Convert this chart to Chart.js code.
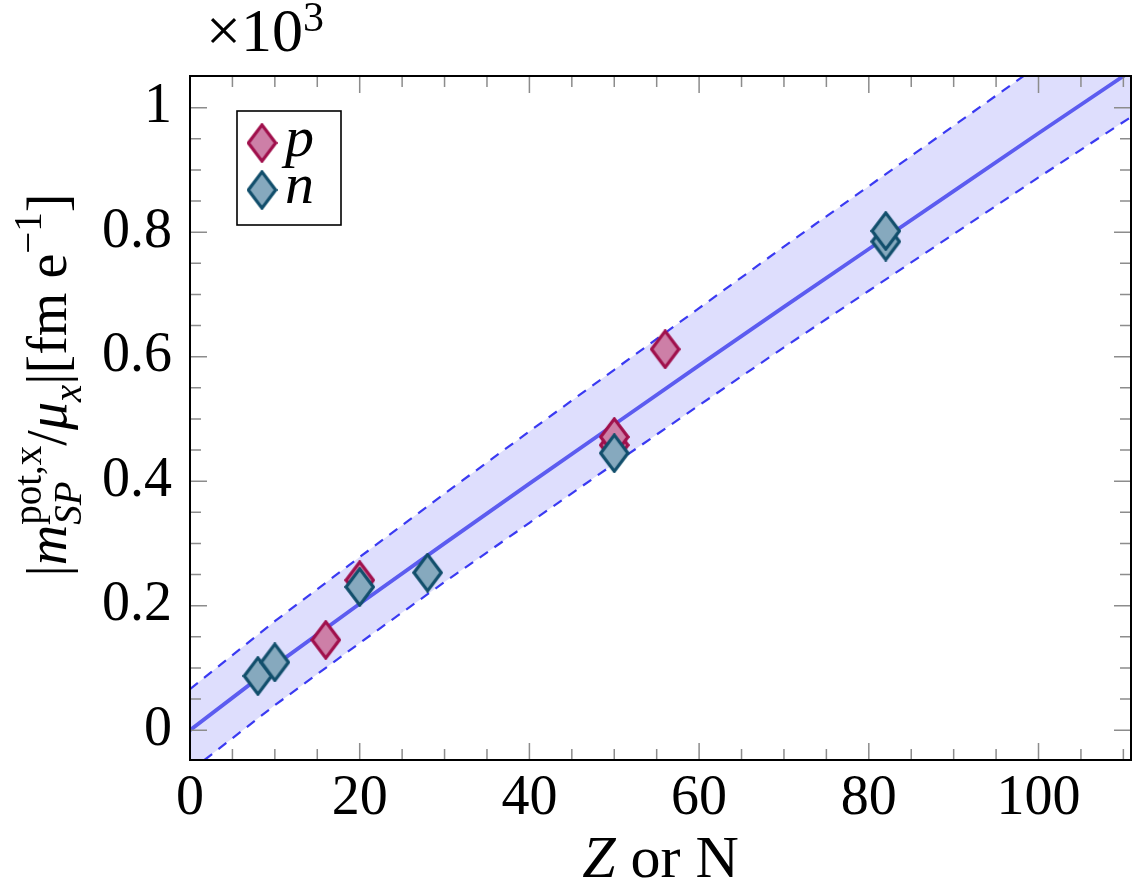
<!DOCTYPE html>
<html lang="en">
<head>
<meta charset="UTF-8">
<title>Single-particle potential term vs Z or N</title>
<script src="https://cdn.jsdelivr.net/npm/chart.js"></script>
<style>
  html, body { margin: 0; padding: 0; background: #fff; }
  #wrap { width: 1136px; height: 885px; }
</style>
</head>
<body>
<div id="wrap"><canvas id="chart" width="1136" height="885"></canvas></div>
<script>
// values in units of 10^3 fm/e
var bandX     = [0, 10, 20, 30, 40, 50, 60, 70, 80, 90, 100, 111];
var bandMid   = [0, 0.104, 0.203, 0.300, 0.396, 0.491, 0.586, 0.680, 0.773, 0.866, 0.959, 1.060];
var bandUpper = [0.066, 0.175, 0.278, 0.380, 0.480, 0.579, 0.678, 0.777, 0.874, 0.971, 1.068, 1.174];
var bandLower = [-0.066, 0.040, 0.140, 0.238, 0.333, 0.428, 0.522, 0.615, 0.706, 0.797, 0.888, 0.986];

var protonZ   = [16, 20, 50, 50, 56];
var protonVal = [0.145, 0.241, 0.458, 0.471, 0.612];
var neutronN   = [8, 10, 20, 28, 50, 82, 82];
var neutronVal = [0.087, 0.109, 0.230, 0.253, 0.445, 0.785, 0.802];

var xTicks = [0, 20, 40, 60, 80, 100];
var xTickLabels = ['0', '20', '40', '60', '80', '100'];
var xMinor = [5, 10, 15, 25, 30, 35, 45, 50, 55, 65, 70, 75, 85, 90, 95, 105, 110];
var yTicks = [0, 0.2, 0.4, 0.6, 0.8, 1];
var yTickLabels = ['0', '0.2', '0.4', '0.6', '0.8', '1'];
var yMinor = [0.05, 0.1, 0.15, 0.25, 0.3, 0.35, 0.45, 0.5, 0.55, 0.65, 0.7, 0.75, 0.85, 0.9, 0.95];

var FONT = 'Liberation Serif';

function pts(xs, ys) {
    return xs.map(function (x, i) { return { x: x, y: ys[i] }; });
}

// taller-than-wide diamond like the pgfplots marker
function diamond(fill, stroke) {
    var c = document.createElement('canvas');
    c.width = 31; c.height = 40;
    var g = c.getContext('2d');
    g.beginPath();
    g.moveTo(15.5, 1.9);
    g.lineTo(29.1, 20);
    g.lineTo(15.5, 38.1);
    g.lineTo(1.9, 20);
    g.closePath();
    g.fillStyle = fill;
    g.fill();
    g.lineWidth = 3.2;
    g.strokeStyle = stroke;
    g.stroke();
    return c;
}
var pMark = diamond('#cd7fa7', '#a0104c');
var nMark = diamond('#86a9be', '#124f6c');

function setFont(ctx, p, size) {
    ctx.font = (p.it ? 'italic ' : '') + Math.round(size * (p.s || 1)) + 'px "' + FONT + '"';
}
function partWidth(ctx, p, size) {
    if (p.stack) {
        return Math.max.apply(null, p.stack.map(function (q) { return partWidth(ctx, q, size); }));
    }
    setFont(ctx, p, size);
    return ctx.measureText(p.t).width;
}
function richWidth(ctx, parts, size) {
    return parts.reduce(function (w, p) { return w + partWidth(ctx, p, size); }, 0);
}
function drawRich(ctx, parts, x, y, size) {
    var cx = x;
    parts.forEach(function (p) {
        var list = p.stack || [p];
        list.forEach(function (q) {
            setFont(ctx, q, size);
            ctx.fillText(q.t, cx, y + (q.dy || 0) * size);
        });
        cx += partWidth(ctx, p, size);
    });
}

var yTitle = [
    { t: '|' },
    { t: 'm', it: true },
    { stack: [{ t: 'pot,x', s: 0.7, dy: -0.45 }, { t: 'SP', it: true, s: 0.7, dy: 0.26 }] },
    { t: '/' },
    { t: 'μ', it: true },
    { t: 'x', it: true, s: 0.7, dy: 0.26 },
    { t: '|' },
    { t: '[fm e' },
    { t: '−1', s: 0.7, dy: -0.45 },
    { t: ']' }
];
var xTitle = [{ t: 'Z', it: true }, { t: ' or N' }];
var scaleNote = [{ t: '×10' }, { t: '3', s: 0.68, dy: -0.33 }];

var decor = {
    id: 'decor',
    afterDatasetsDraw: function (chart) {
        var ctx = chart.ctx, a = chart.chartArea;
        var xs = chart.scales.x, ys = chart.scales.y;
        ctx.save();
        ctx.strokeStyle = '#8c8c8c';
        ctx.lineWidth = 1.5;
        ctx.beginPath();
        function xt(v, len) {
            var px = xs.getPixelForValue(v);
            ctx.moveTo(px, a.bottom); ctx.lineTo(px, a.bottom - len);
            ctx.moveTo(px, a.top); ctx.lineTo(px, a.top + len);
        }
        function yt(v, len) {
            var py = ys.getPixelForValue(v);
            ctx.moveTo(a.left, py); ctx.lineTo(a.left + len, py);
            ctx.moveTo(a.right, py); ctx.lineTo(a.right - len, py);
        }
        xTicks.forEach(function (v) { xt(v, 17); });
        xMinor.forEach(function (v) { xt(v, 11); });
        yTicks.forEach(function (v) { yt(v, 17); });
        yMinor.forEach(function (v) { yt(v, 11); });
        ctx.stroke();

        ctx.strokeStyle = '#000';
        ctx.lineWidth = 2;
        ctx.strokeRect(a.left, a.top, a.right - a.left, a.bottom - a.top);
        ctx.restore();
    },
    afterDraw: function (chart) {
        var ctx = chart.ctx, a = chart.chartArea;
        ctx.save();
        ctx.fillStyle = '#000';
        ctx.textBaseline = 'alphabetic';
        ctx.textAlign = 'left';

        // legend box
        var lx = a.left + 47, ly = a.top + 35;
        ctx.fillStyle = '#fff';
        ctx.fillRect(lx, ly, 104, 114);
        ctx.strokeStyle = '#000';
        ctx.lineWidth = 1.6;
        ctx.strokeRect(lx, ly, 104, 114);
        var items = [
            { mark: pMark, label: chart.data.datasets[1].label, dy: 32 },
            { mark: nMark, label: chart.data.datasets[0].label, dy: 79 }
        ];
        ctx.fillStyle = '#000';
        items.forEach(function (it) {
            ctx.drawImage(it.mark, lx + 25 - it.mark.width / 2, ly + it.dy - it.mark.height / 2);
            ctx.font = 'italic 58px "' + FONT + '"';
            ctx.fillText(it.label, lx + 48, ly + it.dy + 13);
        });

        // axis titles
        var w = richWidth(ctx, xTitle, 60);
        drawRich(ctx, xTitle, (a.left + a.right) / 2 - w / 2, 877, 60);

        ctx.save();
        ctx.translate(66, 385);
        ctx.rotate(-Math.PI / 2);
        w = richWidth(ctx, yTitle, 56);
        drawRich(ctx, yTitle, -w / 2, 0, 56);
        ctx.restore();

        drawRich(ctx, scaleNote, 206, 51, 62);
        ctx.restore();
    }
};

var lineBase = { showLine: true, pointRadius: 0, tension: 0, clip: 0 };

new Chart(document.getElementById('chart').getContext('2d'), {
    type: 'scatter',
    data: {
        datasets: [
            { label: 'n', data: pts(neutronN, neutronVal), pointStyle: nMark, order: 0 },
            { label: 'p', data: pts(protonZ, protonVal), pointStyle: pMark, order: 1 },
            Object.assign({ label: 'upper', data: pts(bandX, bandUpper), borderColor: '#3a3af2',
                borderWidth: 2.2, borderDash: [10, 8], fill: '+1', backgroundColor: '#dedefd', order: 3 }, lineBase),
            Object.assign({ label: 'lower', data: pts(bandX, bandLower), borderColor: '#3a3af2',
                borderWidth: 2.2, borderDash: [10, 8], fill: false, order: 4 }, lineBase),
            Object.assign({ label: 'fit', data: pts(bandX, bandMid), borderColor: '#5c5cf0',
                borderWidth: 3.8, fill: false, order: 2 }, lineBase)
        ]
    },
    options: {
        responsive: false,
        animation: false,
        events: [],
        layout: { padding: { top: 76, right: 2, left: 0, bottom: 0 } },
        plugins: {
            legend: { display: false },
            tooltip: { enabled: false },
            filler: { drawTime: 'beforeDatasetsDraw' }
        },
        scales: {
            x: {
                type: 'linear',
                min: 0,
                max: 110.9,
                afterBuildTicks: function (s) { s.ticks = xTicks.map(function (v) { return { value: v }; }); },
                afterFit: function (s) { s.height = 125; },
                grid: { display: false, drawTicks: false },
                border: { display: false },
                ticks: {
                    autoSkip: false, maxRotation: 0, padding: 6, color: '#000',
                    font: { family: FONT, size: 56 },
                    callback: function (v, i) { return xTickLabels[i]; }
                }
            },
            y: {
                type: 'linear',
                min: -0.048,
                max: 1.051,
                afterBuildTicks: function (s) { s.ticks = yTicks.map(function (v) { return { value: v }; }); },
                afterFit: function (s) { s.width = 190; },
                grid: { display: false, drawTicks: false },
                border: { display: false },
                ticks: {
                    autoSkip: false, padding: 18, color: '#000',
                    font: { family: FONT, size: 56 },
                    callback: function (v, i) { return yTickLabels[i]; }
                }
            }
        }
    },
    plugins: [decor]
});
</script>
</body>
</html>
